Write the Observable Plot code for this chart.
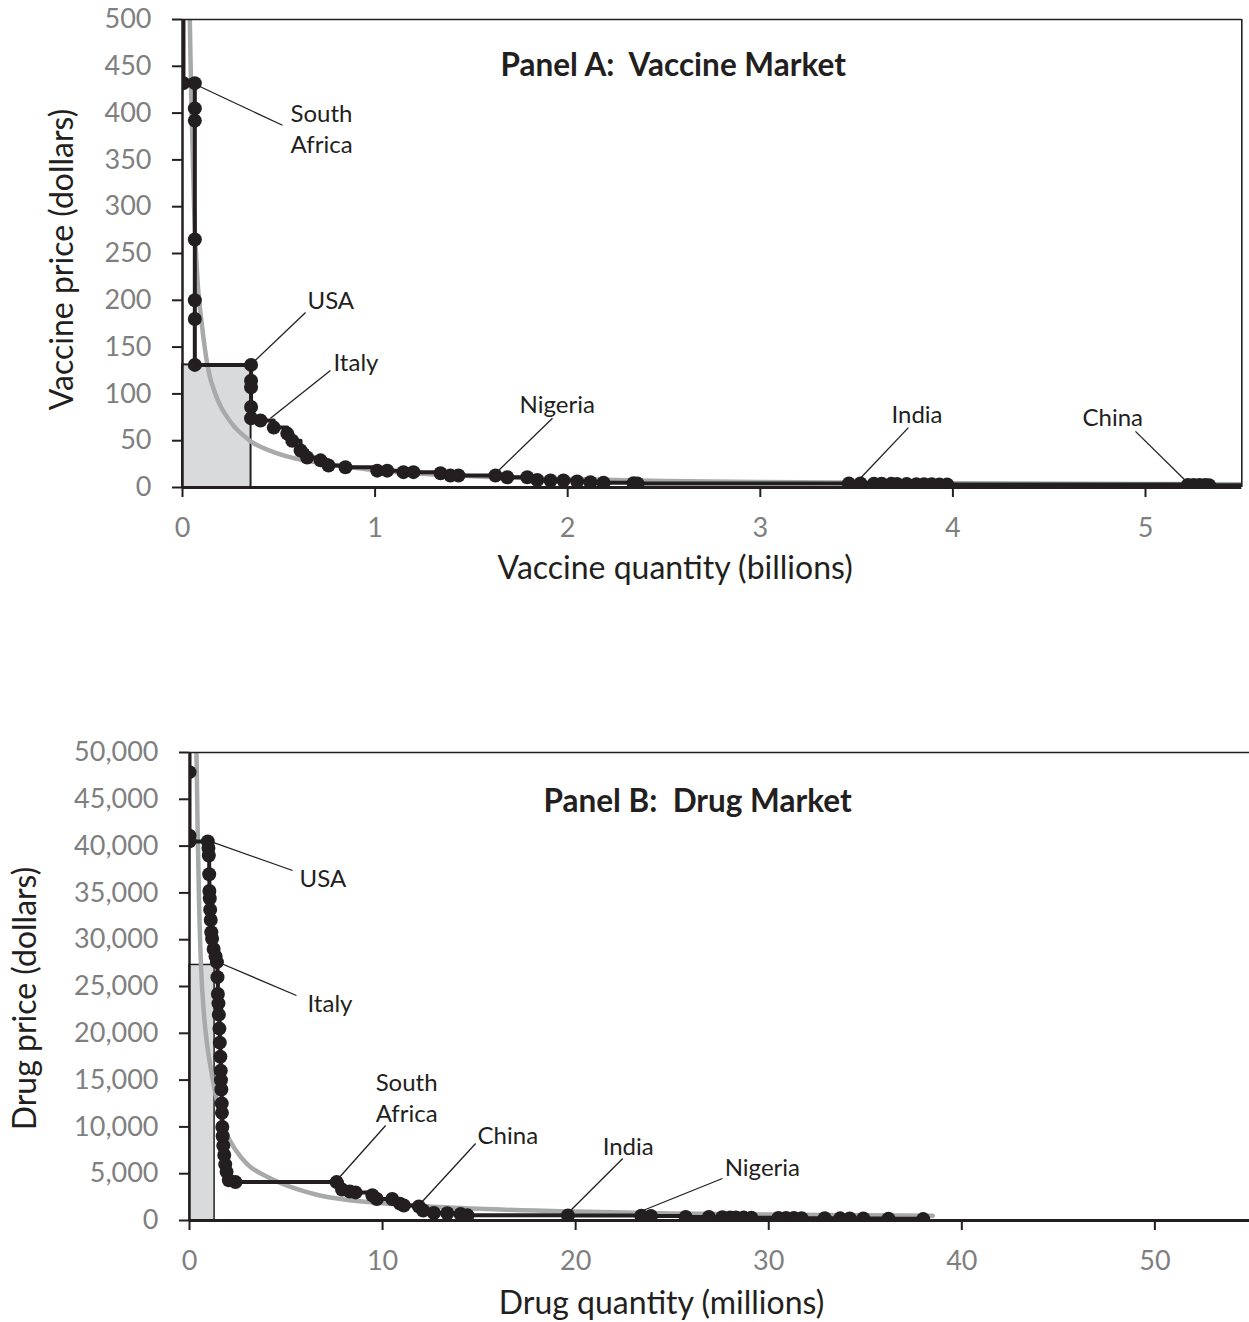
<!DOCTYPE html>
<html><head><meta charset="utf-8">
<script src="https://cdn.jsdelivr.net/npm/d3@7"></script>
<script src="https://cdn.jsdelivr.net/npm/@observablehq/plot@0.6"></script>
<style>body{margin:0;background:#fff;} svg{display:block;}</style>
</head><body><div id="chart"></div>
<script>
// ---------- Panel A: vaccine market (quantity in billions, price in dollars) ----------
const vaccineQ = [0.005,0.064,0.064,0.064,0.064,0.064,0.064,0.064,0.356,0.356,0.356,0.356,0.356,
  0.405,0.474,0.544,0.57,0.613,0.647,0.717,0.758,0.846,1.011,1.063,1.147,1.199,1.34,1.391,1.433,
  1.625,1.686,1.79,1.842,1.911,1.978,2.049,2.118,2.186,2.342,2.362,
  3.46,3.52,3.59,3.63,3.68,3.71,3.76,3.81,3.85,3.89,3.93,3.97,
  5.22,5.25,5.28,5.31,5.33];
const vaccineP = [432,432,405,392,265,200,180,131,131,114,107,86,74,
  71.6,64,57.6,50,39.5,32,29,23.5,21.7,18,18,16.4,16.4,15.3,12.8,12.8,
  12.8,11,11,8,7.5,7.5,6.4,5.7,5,4.6,4.4,
  4.3,4.2,4.1,4.0,3.9,3.8,3.7,3.6,3.5,3.4,3.3,3.2,
  2.8,2.7,2.6,2.6,2.5];
const vaccineLineStart = {q: 0, p: 560};
const vaccineLineEnd = {q: 5.5, p: 2.5};
const vaccineCurveQ = [0.034,0.038,0.045,0.06,0.08,0.1,0.13,0.18,0.25,0.35,0.5,0.75,1.0,1.5,2.0,2.5,3.0,4.0,5.0,5.5];
const vaccineCurveP = [560,500,420,300,215,175,130,95,70,50,36,25,18.5,12,9,7,6,4.5,3.7,3.4];
const vaccineRect = {q: 0.356, p: 131};
const vaccineLabels = ["South\nAfrica","USA","Italy","Nigeria","India","China"];
const vaccineLabelAtQ = [0.073,0.353,0.457,1.625,3.494,5.223];
const vaccineLabelAtP = [430,131,74,15,4.3,4.3];
const vaccineLeaderQ = [0.519,0.639,0.768,1.921,3.769,4.948];
const vaccineLeaderP = [387,187,125,74,64,60];
const vaccineTextQ = [0.561,0.649,0.784,1.75,3.681,4.673];
const vaccineTextP = [385,201,135,90,80,76];
const vaccineXTicks = [0,1,2,3,4,5];
const vaccineYTicks = d3.range(0, 501, 50);

// ---------- Panel B: drug market (quantity in millions, price in dollars) ----------
const drugQ = [0,0,0,0.95,0.98,1.0,1.02,1.03,1.05,1.07,1.1,1.13,1.17,1.25,1.35,1.42,1.45,1.47,1.5,1.52,
  1.55,1.57,1.6,1.62,1.63,1.65,1.67,1.68,1.7,1.72,1.75,1.8,1.85,1.92,2.04,2.38,
  7.62,7.9,8.3,8.6,9.47,9.7,10.5,10.9,11.1,11.88,12.1,12.66,13.35,14.04,14.4,
  19.6,23.4,23.9,25.7,26.9,27.6,28.0,28.3,28.7,29.1,30.5,30.9,31.3,31.7,32.9,33.7,34.2,34.9,36.2,38.0];
const drugP = [47900,41100,40500,40500,39800,39000,37000,35200,34400,33200,32100,30800,30100,29000,28200,27600,26000,24200,23200,22000,
  20500,19000,17500,16000,15000,14000,12500,11500,10000,9000,8000,7000,6000,5200,4300,4100,
  4100,3300,3100,3000,2700,2300,2300,1800,1600,1500,1070,800,780,700,550,
  530,500,480,380,370,340,330,320,310,300,280,270,260,250,240,230,220,210,200,150];
const drugLineStart = {q: 0, p: 56000};
const drugCurveQ = [0.33,0.36,0.42,0.5,0.6,0.75,0.9,1.1,1.43,1.8,2.4,3.0,4.1,5.5,6.7,8,10,12,15,20,25,30,35,38.5];
const drugCurveP = [55000,50000,42000,33500,27000,22000,19000,16300,12700,9900,7500,6000,4600,3400,2700,2250,1850,1550,1250,950,760,640,560,500];
const drugRect = {q: 1.3, p: 27300};
const drugLabels = ["USA","Italy","South\nAfrica","China","India","Nigeria"];
const drugLabelAtQ = [0.93,1.40,7.62,11.87,19.53,23.1];
const drugLabelAtP = [40600,27671,4274,1603,641,748];
const drugLeaderQ = [5.34,5.54,10.16,14.82,22.44,27.6];
const drugLeaderP = [37393,24038,10150,8226,6624,4487];
const drugTextQ = [5.70,6.11,9.64,14.92,21.4,27.72];
const drugTextP = [36645,23291,13248,9188,8013,5769];
const drugXTicks = [0,10,20,30,40,50];
const drugYTicks = d3.range(0, 50001, 5000);

const ink = "#231f20";
const tickGray = "#7f7f7f";
const font = "Lato, 'Open Sans', sans-serif";

function panel(cfg) {
  const pts = cfg.q.map((q, i) => ({q, p: cfg.p[i]}));
  const linePts = [cfg.lineStart, ...pts, ...(cfg.lineEnd ? [cfg.lineEnd] : [])];
  const curve = cfg.curveQ.map((q, i) => ({q, p: cfg.curveP[i]}));
  const ann = cfg.labels.map((t, i) => ({t, q1: cfg.atQ[i], p1: cfg.atP[i], q2: cfg.leadQ[i], p2: cfg.leadP[i], tq: cfg.textQ[i], tp: cfg.textP[i]}));
  return Plot.plot({
    width: 1249, height: cfg.height,
    marginLeft: cfg.ml, marginRight: cfg.mr, marginTop: cfg.mt, marginBottom: cfg.mb,
    style: {fontFamily: font, fontSize: "27px", background: "#fff", overflow: "visible"},
    x: {domain: cfg.xDomain, axis: null},
    y: {domain: cfg.yDomain, axis: null},
    marks: [
      Plot.rectY([cfg.rect], {x1: 0, x2: "q", y1: 0, y2: "p", fill: "#d9dadb", stroke: ink, strokeWidth: cfg.rectStroke}),
      Plot.line(curve, {x: "q", y: "p", stroke: "#a7a9ab", strokeWidth: 4.5, curve: "monotone-x", clip: true}),
      Plot.line(linePts, {x: "q", y: "p", stroke: ink, strokeWidth: 4, curve: "step-after", clip: true}),
      Plot.dot(pts, {x: "q", y: "p", r: 7, fill: ink, clip: true}),
      Plot.link(ann, {x1: "q1", y1: "p1", x2: "q2", y2: "p2", stroke: ink, strokeWidth: 1.3}),
      Plot.text(ann, {x: "tq", y: "tp", text: "t", textAnchor: "start", lineAnchor: "middle", fontSize: 24, fill: ink, lineHeight: 1.3}),
      // axes frame
      Plot.ruleY([cfg.yDomain[1]], {stroke: ink, strokeWidth: 1.6}),
      ...(cfg.rightBorder ? [Plot.ruleX([cfg.xDomain[1]], {stroke: ink, strokeWidth: 1.6})] : []),
      Plot.ruleX([0], {stroke: ink, strokeWidth: 2.5}),
      Plot.ruleY([0], {stroke: ink, strokeWidth: 3}),
      Plot.axisY(cfg.yTicks, {tickSize: 10, strokeWidth: 2, stroke: ink, tickFormat: () => "", label: null}),
      Plot.axisY(cfg.yTicks, {tickSize: 0, tickPadding: 31, fill: tickGray, tickFormat: cfg.yFormat, label: null, fontSize: 27}),
      Plot.axisX(cfg.xTicks, {tickSize: 10, strokeWidth: 2, stroke: ink, tickFormat: () => "", label: null}),
      Plot.axisX(cfg.xTicks, {tickSize: 0, tickPadding: 30, fill: tickGray, tickFormat: d3.format("d"), label: null, fontSize: 27}),
      // titles
      Plot.text([cfg.title], {frameAnchor: "top", dx: cfg.titleDx, dy: cfg.titleDy, fontWeight: "bold", fontSize: cfg.titleSize, fill: ink, lineAnchor: "middle"}),
      Plot.text([cfg.xLabel], {frameAnchor: "bottom", dx: cfg.xLabelDx, dy: cfg.xLabelDy, fontSize: 32, fill: ink, lineAnchor: "middle"}),
      Plot.text([cfg.yLabel], {frameAnchor: "left", dx: cfg.yLabelDx, dy: cfg.yLabelDy, rotate: -90, textAnchor: "middle", fontSize: 32, fill: ink, lineAnchor: "middle"})
    ]
  });
}

const chartA = panel({
  q: vaccineQ, p: vaccineP, lineStart: vaccineLineStart, lineEnd: vaccineLineEnd,
  curveQ: vaccineCurveQ, curveP: vaccineCurveP, rect: vaccineRect, rectStroke: 2,
  labels: vaccineLabels, atQ: vaccineLabelAtQ, atP: vaccineLabelAtP, leadQ: vaccineLeaderQ, leadP: vaccineLeaderP,
  textQ: vaccineTextQ, textP: vaccineTextP,
  height: 620, ml: 182, mr: 7.7, mt: 19, mb: 133,
  xDomain: [0, 5.5], yDomain: [0, 500], xTicks: vaccineXTicks, yTicks: vaccineYTicks, yFormat: d3.format("d"),
  rightBorder: true,
  title: "Panel A:  Vaccine Market", titleSize: 31.5, titleDx: -39, titleDy: 46,
  xLabel: "Vaccine quantity (billions)", xLabelDx: -37, xLabelDy: 81,
  yLabel: "Vaccine price (dollars)", yLabelDx: -120, yLabelDy: 6
});

const chartB = panel({
  q: drugQ, p: drugP, lineStart: drugLineStart, lineEnd: null,
  curveQ: drugCurveQ, curveP: drugCurveP, rect: drugRect, rectStroke: 1.5,
  labels: drugLabels, atQ: drugLabelAtQ, atP: drugLabelAtP, leadQ: drugLeaderQ, leadP: drugLeaderP,
  textQ: drugTextQ, textP: drugTextP,
  height: 702, ml: 189, mr: 0, mt: 132, mb: 102,
  xDomain: [0, 54.9], yDomain: [0, 50000], xTicks: drugXTicks, yTicks: drugYTicks, yFormat: d3.format(","),
  rightBorder: false,
  title: "Panel B:  Drug Market", titleSize: 31.5, titleDx: -22, titleDy: 49,
  xLabel: "Drug quantity (millions)", xLabelDx: -58, xLabelDy: 83,
  yLabel: "Drug price (dollars)", yLabelDx: -164, yLabelDy: 12
});

document.getElementById("chart").append(chartA, chartB);
</script>
</body></html>
